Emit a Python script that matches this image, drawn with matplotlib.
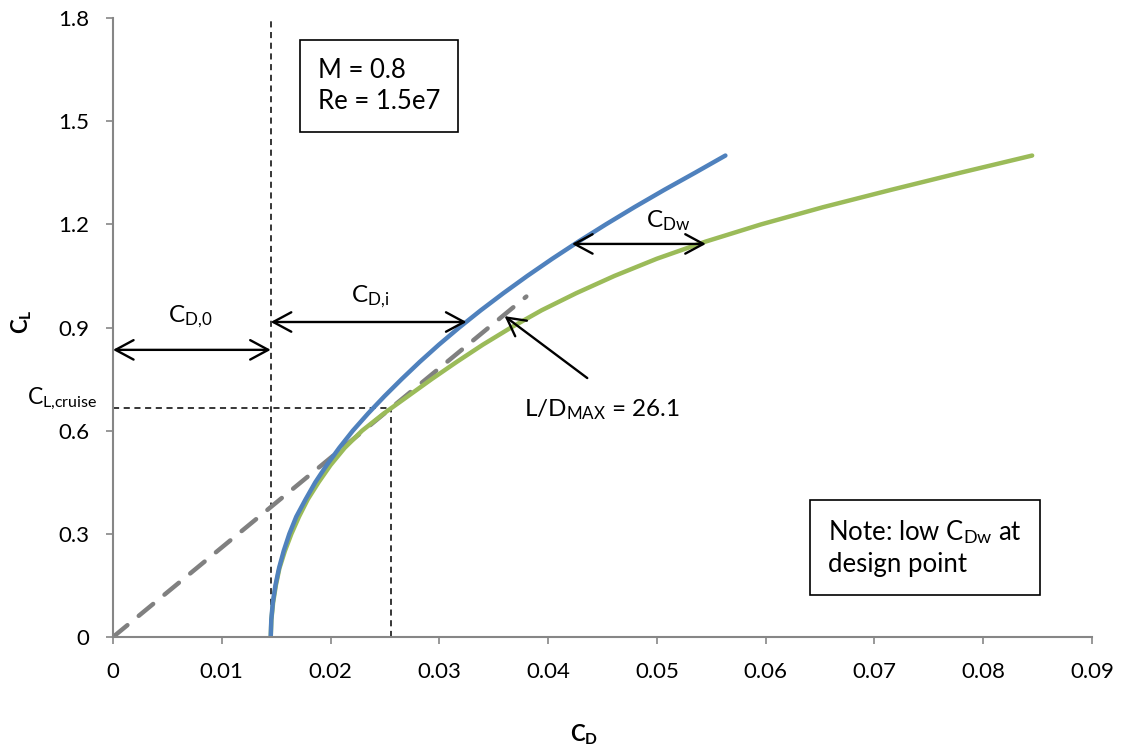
import matplotlib
matplotlib.use('Agg')
import matplotlib.pyplot as plt

# fonts: Lato is the closest to the Calibri look of the original
plt.rcParams['font.family'] = ['Lato', 'DejaVu Sans']
plt.rcParams['mathtext.fontset'] = 'custom'
plt.rcParams['mathtext.rm'] = 'Lato'
plt.rcParams['mathtext.it'] = 'Lato:italic'
plt.rcParams['mathtext.bf'] = 'Lato:bold'

# drag polar data
cl = [0, 0.05, 0.1, 0.15, 0.2, 0.25, 0.3, 0.35, 0.4, 0.45, 0.5, 0.55, 0.6, 0.65,
      0.7, 0.75, 0.8, 0.85, 0.9, 0.95, 1.0, 1.05, 1.1, 1.15, 1.2, 1.25, 1.3, 1.35, 1.4]
cd_no_wave = [0.01450, 0.01455, 0.01469, 0.01493, 0.01526, 0.01569, 0.01621, 0.01685,
              0.01770, 0.01860, 0.01965, 0.02080, 0.02205, 0.02345, 0.02495, 0.02654,
              0.02820, 0.02996, 0.03183, 0.03381, 0.03590, 0.03809, 0.04039, 0.04280,
              0.04532, 0.04794, 0.05067, 0.05351, 0.05630]
cd_with_wave = [0.01450, 0.01456, 0.01472, 0.01497, 0.01530, 0.01580, 0.01640, 0.01710,
                0.01790, 0.01890, 0.02000, 0.02130, 0.02290, 0.02490, 0.02710, 0.02930,
                0.03160, 0.03400, 0.03660, 0.03940, 0.04260, 0.04610, 0.05000, 0.05450,
                0.05960, 0.06530, 0.07150, 0.07790, 0.08450]

# L/D max tangent line
ld_cd = [0, 0.038]
ld_cl = [0, 0.99]

cd0 = 0.0145
cl_cruise = 0.665
cd_cruise = 0.0256

xticks = [0, 0.01, 0.02, 0.03, 0.04, 0.05, 0.06, 0.07, 0.08, 0.09]
xticklabels = ['0', '0.01', '0.02', '0.03', '0.04', '0.05', '0.06', '0.07', '0.08', '0.09']
yticks = [0, 0.3, 0.6, 0.9, 1.2, 1.5, 1.8]
yticklabels = ['0', '0.3', '0.6', '0.9', '1.2', '1.5', '1.8']

fig = plt.figure(figsize=(11.29, 7.49), dpi=100)
ax = fig.add_axes([0.1001, 0.1495, 0.8671, 0.8265])

# reference dashed lines
ax.plot([cd0, cd0], [0, 1.8], color='black', lw=1.1, dashes=(4, 3))
ax.plot([0, cd_cruise], [cl_cruise, cl_cruise], color='black', lw=1.1, dashes=(4, 3))
ax.plot([cd_cruise, cd_cruise], [0, cl_cruise], color='black', lw=1.1, dashes=(4, 3))

# curves
ax.plot(ld_cd, ld_cl, color='#808080', lw=3.2, dashes=(4.2, 3.3), dash_capstyle='round')
ax.plot(cd_with_wave, cl, color='#9BBB59', lw=3.2, solid_capstyle='round')
ax.plot(cd_no_wave, cl, color='#4F81BD', lw=3.2, solid_capstyle='round')

arrow_kw = dict(arrowstyle='<->,head_length=1.3,head_width=0.7', color='black', lw=1.7,
                shrinkA=0, shrinkB=0)
ax.annotate('', xy=(0, 0.835), xytext=(cd0, 0.835), arrowprops=arrow_kw)
ax.annotate('', xy=(cd0, 0.916), xytext=(0.0325, 0.916), arrowprops=arrow_kw)
ax.annotate('', xy=(0.0422, 1.143), xytext=(0.0545, 1.143), arrowprops=arrow_kw)
ax.annotate('', xy=(0.0360, 0.933), xytext=(0.0436, 0.753),
            arrowprops=dict(arrowstyle='->,head_length=1.3,head_width=0.7', color='black',
                            lw=1.7, shrinkA=0, shrinkB=0))

ax.text(0.0071, 0.93, r'C$_{\rm D{,}0}$', fontsize=17.5, ha='center', va='center')
ax.text(0.0236, 0.99, r'C$_{\rm D{,}i}$', fontsize=17.5, ha='center', va='center')
ax.text(0.0510, 1.21, r'C$_{\rm Dw}$', fontsize=17.5, ha='center', va='center')
ax.text(0.0378, 0.66, r'L/D$_{\rm MAX}$ = 26.1', fontsize=17.5, ha='left', va='center')

ax.text(0.0188, 1.602, 'M = 0.8\nRe = 1.5e7', fontsize=18.5, ha='left', va='center',
        linespacing=1.3,
        bbox=dict(boxstyle='square,pad=0.7', fc='white', ec='black', lw=1.2))
ax.text(0.0657, 0.259, 'Note: low C$_{\\rm Dw}$ at\ndesign point', fontsize=18.5,
        ha='left', va='center', linespacing=1.3,
        bbox=dict(boxstyle='square,pad=0.7', fc='white', ec='black', lw=1.2))

ax.text(-0.016, 0.692, r'C$_{\rm L{,}cruise}$', fontsize=16.5, ha='right', va='center',
        transform=ax.get_yaxis_transform())

ax.set_xlim(0, 0.09)
ax.set_ylim(0, 1.8)
ax.set_xticks(xticks)
ax.set_xticklabels(xticklabels)
ax.set_yticks(yticks)
ax.set_yticklabels(yticklabels)
ax.tick_params(axis='both', direction='out', length=5, width=1.2, color='#868686',
               labelsize=16)
ax.tick_params(axis='x', pad=13)
ax.tick_params(axis='y', pad=12)

for side in ['top', 'right']:
    ax.spines[side].set_visible(False)
for side in ['left', 'bottom']:
    ax.spines[side].set_color('#868686')
    ax.spines[side].set_linewidth(1.5)

fig.text(22 / 1129, 1 - 322 / 749, r'$\mathbf{C}_\mathbf{L}$', fontsize=16, rotation=90,
         ha='center', va='center')
fig.text(584 / 1129, 1 - 735 / 749, r'$\mathbf{C}_\mathbf{D}$', fontsize=16,
         ha='center', va='center')

fig.savefig('out.png', dpi=100)
